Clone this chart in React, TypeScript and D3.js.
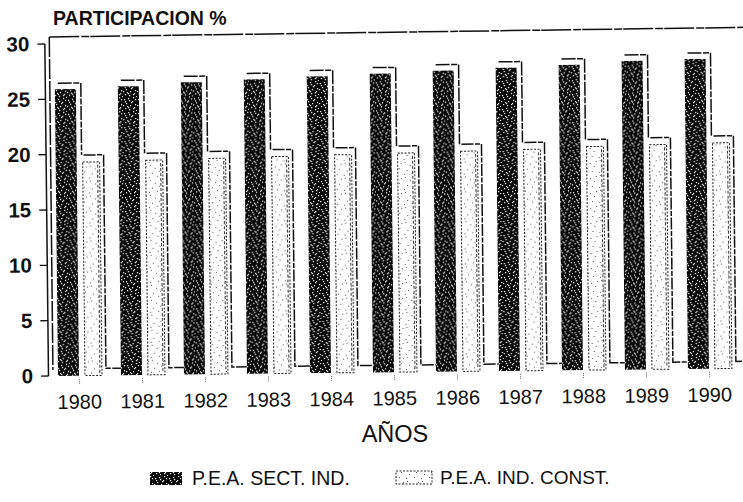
import React from 'react';
import * as d3 from 'd3';

const years = ['1980', '1981', '1982', '1983', '1984', '1985', '1986', '1987', '1988', '1989', '1990'];
const peaSectInd = [25.9, 26.1, 26.4, 26.6, 26.8, 27.0, 27.2, 27.4, 27.6, 27.9, 28.0];
const peaIndConst = [19.3, 19.4, 19.5, 19.6, 19.7, 19.8, 19.9, 20.0, 20.2, 20.3, 20.4];
const yTicks = [0, 5, 10, 15, 20, 25, 30];
const titleText = 'PARTICIPACION %';
const xTitle = 'AÑOS';
const legendLabels = ['P.E.A. SECT. IND.', 'P.E.A. IND. CONST.'];

const darkDots = [
  [1, 2], [5, 1], [9, 4], [3, 6], [7, 8], [11, 10], [2, 11], [6, 12], [10, 0], [0, 8], [8, 5], [4, 9], [12, 7],
  [13, 13], [6, 3], [2, 4], [10, 11], [12, 2], [5, 10],
];
const lightDots = [
  [2, 1], [7, 4], [4, 9], [11, 7], [9, 12], [1, 13], [13, 2],
];

export default function App() {
  const W = 743;
  const H = 502;
  const y = d3.scaleLinear().domain([0, 30]).range([376, 44]);
  const x = d3.scaleBand().domain(years).range([48, 741]).paddingInner(0).paddingOuter(0);
  const step = x.step();
  const base = y(0);
  const darkOff = 10;
  const darkW = 21;
  const lightOff = 37;
  const lightW = 17;
  const font = 'Liberation Sans, Arial, Helvetica, sans-serif';
  const wallTop = y(30) - 7;
  const floorY = base - 7;

  return (
    <svg width={W} height={H} style={{ display: 'block', position: 'absolute', left: 0, top: 0, background: '#fff' }}>
      <defs>
        <pattern id="dk" width={14} height={14} patternUnits="userSpaceOnUse">
          <rect width={14} height={14} fill="#080808" />
          {darkDots.map(([a, b], i) => (
            <rect key={i} x={a} y={b} width={1.2} height={1.2} fill="#fff" />
          ))}
        </pattern>
        <pattern id="lt" width={15} height={15} patternUnits="userSpaceOnUse">
          <rect width={15} height={15} fill="#fff" />
          {lightDots.map(([a, b], i) => (
            <rect key={i} x={a} y={b} width={1} height={1} fill="#555" />
          ))}
        </pattern>
      </defs>
      <rect width={W} height={H} fill="#fff" />
      <text x={53} y={25} fontFamily={font} fontWeight="bold" fontSize={19.5} fill="#111">{titleText}</text>

      <g transform={`rotate(-0.63, 48, 376)`}>
        {/* back wall */}
        <line x1={53} y1={wallTop} x2={760} y2={wallTop - 2} stroke="#111" strokeWidth={1.5} strokeDasharray="30 2 8 1" />
        <line x1={53} y1={wallTop} x2={53} y2={floorY + 1} stroke="#111" strokeWidth={1.5} strokeDasharray="20 2" />
        {/* y axis */}
        <line x1={48.5} y1={y(30)} x2={48.5} y2={base} stroke="#111" strokeWidth={1.5} />
        {yTicks.map((t) => (
          <g key={t}>
            <line x1={41} x2={48.5} y1={y(t)} y2={y(t)} stroke="#111" strokeWidth={1.3} />
            <text x={33} y={y(t) + 7} textAnchor="end" fontFamily={font} fontWeight="bold" fontSize={20.5} fill="#111">{t}</text>
          </g>
        ))}
        {years.map((yr, i) => {
          const b = x(yr) as number;
          const dx0 = b + darkOff;
          const lx0 = b + lightOff;
          const dTop = y(peaSectInd[i]);
          const lTop = y(peaIndConst[i]);
          const nextX = i < years.length - 1 ? (x(years[i + 1]) as number) + darkOff : 760;
          return (
            <g key={yr}>
              <path d={`M${dx0 + 3},${dTop - 6}H${dx0 + darkW + 5}V${lTop - 7}`} fill="none" stroke="#111" strokeWidth={1.5} strokeDasharray="14 1.5 6 1.5" />
              <path d={`M${lx0 + 1},${lTop - 7}H${lx0 + lightW + 4}V${floorY}H${nextX}`} fill="none" stroke="#111" strokeWidth={1.5} strokeDasharray="12 1.5 5 1.5" />
              <rect x={dx0} y={dTop} width={darkW} height={base - dTop} fill="url(#dk)" />
              <rect x={lx0} y={lTop} width={lightW} height={base - lTop} fill="url(#lt)" stroke="#222" strokeWidth={1} strokeDasharray="2 1.5" />
              <line x1={lx0 + lightW - 2} x2={lx0 + lightW - 2} y1={lTop + 3} y2={base - 2} stroke="#333" strokeWidth={1} strokeDasharray="3 2" />
              <line x1={b + step / 2} x2={b + step / 2} y1={base + 3} y2={base + 8} stroke="#666" strokeWidth={1} strokeDasharray="1 1" />
              <text x={b + step / 2} y={base + 33} textAnchor="middle" fontFamily={font} fontSize={20} fill="#111">{yr}</text>
            </g>
          );
        })}
      </g>

      <text x={395} y={442} textAnchor="middle" fontFamily={font} fontSize={23.5} fill="#111">{xTitle}</text>

      <rect x={150} y={472} width={32} height={13} fill="url(#dk)" />
      <text x={192} y={485} fontFamily={font} fontSize={19.5} fill="#111">{legendLabels[0]}</text>
      <rect x={396} y={471} width={36} height={13} fill="url(#lt)" stroke="#222" strokeWidth={1} strokeDasharray="2 1.5" />
      <text x={440} y={484} fontFamily={font} fontSize={19} fill="#111">{legendLabels[1]}</text>
    </svg>
  );
}
